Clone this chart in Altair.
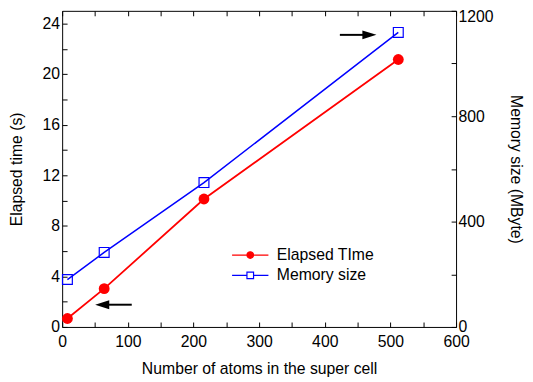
import altair as alt
import pandas as pd

# ---- data ----
atoms = [8, 64, 216, 512]
elapsed_s = [0.67, 3.03, 10.12, 21.15]
memory_mb = [180, 283, 548, 1118]
series_names = ["Elapsed TIme", "Memory size"]

# arrows (x in atoms, y in left-axis seconds)
arrow_tail_x = [106, 423]
arrow_head_x = [61, 468]
arrow_y = [1.76, 23.1]
arrow_dir = ["left", "right"]

x_ticks = list(range(0, 601, 50))
y_left_ticks = list(range(0, 25, 2))
y_right_ticks = list(range(0, 1201, 200))

# ---- styles ----
FONT = "Liberation Sans"
RED, BLUE = "#ff0000", "#0000ff"
arrow_paths = ["M-1,0L1,-0.63L1,0.63Z", "M1,0L-1,-0.63L-1,0.63Z"]
LEG_CIRCLE = "M-5.5,0H5.5M-1,0A1,1 0 1,0 1,0A1,1 0 1,0 -1,0Z"
LEG_SQUARE = "M-5.5,0H-1M1,0H5.5M-1,-1H1V1H-1Z"

df_time = pd.DataFrame({"atoms": atoms, "value": elapsed_s})
df_mem = pd.DataFrame({"atoms": atoms, "value": memory_mb})
df_arrow = pd.DataFrame({"tail": arrow_tail_x, "head": arrow_head_x,
                         "y": arrow_y, "direction": arrow_dir})
df_series = pd.DataFrame({"series": series_names})

x_scale = alt.Scale(domain=[0, 600], nice=False, zero=False)
yl_scale = alt.Scale(domain=[0, 25], nice=False)
yr_scale = alt.Scale(domain=[0, 1200], nice=False)

grid_kw = dict(grid=True, gridColor="black", gridOpacity=1, gridWidth=1,
               gridDash=[5, 2000], ticks=True, tickSize=0, tickWidth=0,
               domain=False, labelOverlap=False, labelFlush=False)

x_bottom = alt.Axis(values=x_ticks, format="d", orient="bottom",
                    labelExpr="datum.value % 100 == 0 ? datum.label : ''",
                    title="Number of atoms in the super cell",
                    labelPadding=7, titlePadding=11, **grid_kw)
x_top = alt.Axis(values=x_ticks, labels=False, orient="top", **grid_kw)
y_left = alt.Axis(values=y_left_ticks, format="d", orient="left",
                  labelExpr="datum.value % 4 == 0 ? datum.label : ''",
                  title="Elapsed time (s)", labelPadding=2.6, titlePadding=18,
                  **grid_kw)
y_right = alt.Axis(values=y_right_ticks, format="d", orient="right",
                   labelExpr="datum.value % 400 == 0 ? datum.label : ''",
                   labelOffset={"condition": {"test": "datum.value == 1200",
                                              "value": 6}, "value": 0},
                   title="Memory size (MByte)", labelPadding=2,
                   titlePadding=15, **grid_kw)

red_line = alt.Chart(df_time).mark_line(color=RED, strokeWidth=1.8).encode(
    x=alt.X("atoms:Q", scale=x_scale, axis=x_bottom),
    y=alt.Y("value:Q", scale=yl_scale, axis=y_left),
)
blue_line = alt.Chart(df_mem).mark_line(color=BLUE, strokeWidth=1.5).encode(
    x=alt.X("atoms:Q", scale=x_scale, axis=None),
    y=alt.Y("value:Q", scale=yr_scale, axis=y_right),
)
red_pts = alt.Chart(df_time).mark_point(
    shape="circle", filled=True, color=RED, size=121, opacity=1
).encode(
    x=alt.X("atoms:Q", scale=x_scale, axis=x_top, title=None),
    y=alt.Y("value:Q", scale=yl_scale, axis=None),
)
blue_pts = alt.Chart(df_mem).mark_point(
    shape="square", filled=False, color=BLUE, size=100, strokeWidth=1.2,
    opacity=1
).encode(
    x=alt.X("atoms:Q", scale=x_scale, axis=None),
    y=alt.Y("value:Q", scale=yr_scale, axis=None),
)
arrow_rule = alt.Chart(df_arrow).mark_rule(color="black", strokeWidth=2).encode(
    x=alt.X("tail:Q", scale=x_scale, axis=None),
    x2="head:Q",
    y=alt.Y("y:Q", scale=yl_scale, axis=None),
)
arrow_head = alt.Chart(df_arrow).mark_point(
    filled=True, color="black", size=204, opacity=1
).encode(
    x=alt.X("head:Q", scale=x_scale, axis=None),
    y=alt.Y("y:Q", scale=yl_scale, axis=None),
    shape=alt.Shape("direction:N",
                    scale=alt.Scale(domain=arrow_dir, range=arrow_paths),
                    legend=None),
)


def legend_entry(idx, path, color, fill, filled, y):
    lg = alt.Legend(
        orient="none", legendX=183, legendY=y, title=None,
        symbolType=path, symbolSize=45, symbolStrokeWidth=1.2,
        symbolStrokeColor=color, symbolFillColor=fill, symbolOpacity=1,
        labelOffset=19, labelFont=FONT, labelFontSize=16, labelColor="black",
        padding=0,
    )
    return alt.Chart(df_series.iloc[[idx]]).transform_filter("false").mark_point(
        filled=filled, shape=path, opacity=1
    ).encode(
        color=alt.Color("series:N", legend=lg,
                        scale=alt.Scale(domain=[series_names[idx]],
                                        range=[color])),
    )


leg_time = legend_entry(0, LEG_CIRCLE, RED, RED, True, 240)
leg_mem = legend_entry(1, LEG_SQUARE, BLUE, "#ffffff", False, 260.6)

chart = alt.layer(
    red_line, blue_line, red_pts, blue_pts, arrow_rule, arrow_head,
    leg_time, leg_mem
).resolve_scale(
    x="independent", y="independent", color="independent"
).properties(
    width=400, height=321,
    autosize=alt.AutoSizeParams(type="none"),
    padding={"left": 55, "top": 0, "right": 70, "bottom": 53},
    background="white",
).configure_view(
    stroke="black", strokeWidth=1
).configure_axis(
    labelFont=FONT, labelFontSize=16, labelColor="black",
    titleFont=FONT, titleFontSize=16, titleFontWeight="normal",
    titleColor="black",
)

chart.save("out.html", embed_options={"renderer": "svg", "actions": False})
